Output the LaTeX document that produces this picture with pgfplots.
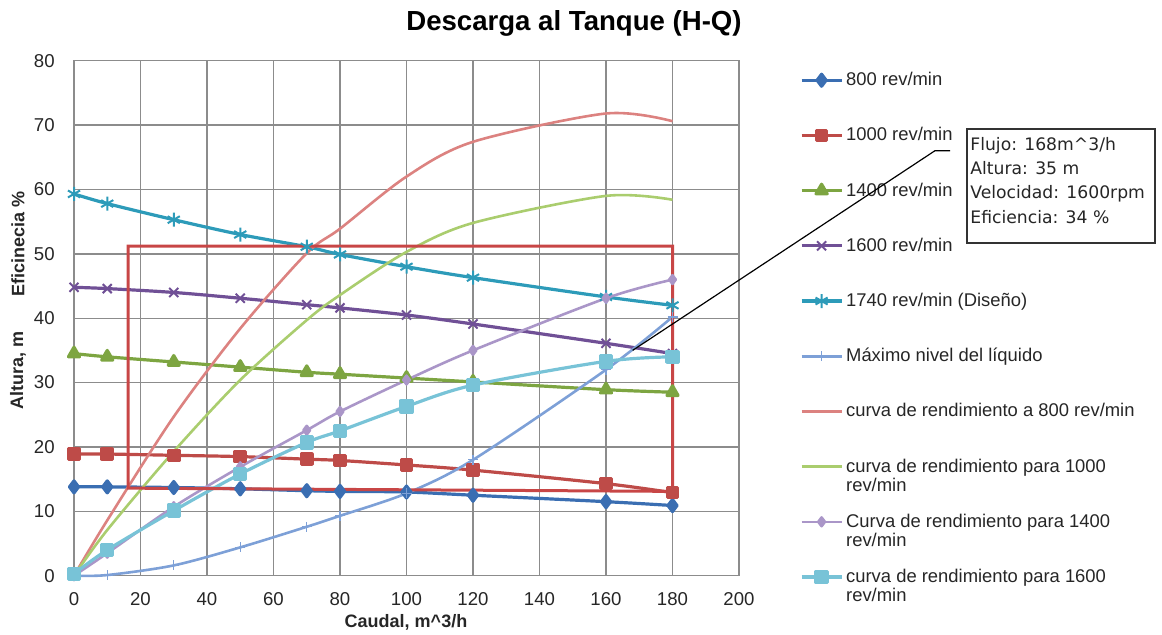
\documentclass[border=0pt]{standalone}
\usepackage{fontspec}
\setmainfont{Liberation Sans}
\newfontfamily\dejavu{DejaVu Sans}
\usepackage{pgfplots}
\pgfplotsset{compat=1.18}
\definecolor{gridc}{RGB}{140,140,140}
\definecolor{cA}{RGB}{58,110,178}
\definecolor{cB}{RGB}{190,75,72}
\definecolor{cC}{RGB}{125,165,65}
\definecolor{cD}{RGB}{112,80,150}
\definecolor{cE}{RGB}{45,155,185}
\definecolor{cF}{RGB}{125,160,215}
\definecolor{cG}{RGB}{220,130,128}
\definecolor{cH}{RGB}{170,205,110}
\definecolor{cI}{RGB}{170,150,200}
\definecolor{cJ}{RGB}{120,195,215}
\definecolor{rectc}{RGB}{200,70,70}
\newcommand{\LE}[1]{\raisebox{0pt}[7pt][2pt]{#1}}
\newcommand{\LT}[2]{\raisebox{0pt}[7pt][2pt]{\begin{tabular}[t]{@{}l@{}}#1\\#2\end{tabular}}}
\begin{document}
\begin{tikzpicture}
\path[use as bounding box] (0,0) rectangle (581pt,-317.5pt);
\begin{axis}[
  at={(37pt,-287.85pt)}, anchor=south west,
  scale only axis, width=332.5pt, height=257.5pt,
  xmin=0, xmax=200, ymin=0, ymax=80,
  xtick={0,20,...,200}, ytick={0,10,...,80},
  grid=major, major grid style={gridc, line width=0.7pt},
  axis line style={gridc, line width=0.7pt},
  major tick length=0pt,
  tick label style={font=\fontsize{9.3}{10}\selectfont, text=black!85},
  /pgf/number format/assume math mode=true,
  yticklabel style={inner sep=0pt, xshift=-9.5pt},
  xticklabel style={inner sep=0pt, yshift=-8pt},
  clip=false,
  legend cell align=left,
  legend style={at={(axis description cs:1.0917,0.9786)}, anchor=north west,
    draw=none, fill=none, inner sep=0pt, outer sep=0pt,
    row sep=19.1pt, column sep=1.5pt,
    nodes={inner sep=0pt, font=\fontsize{9.2}{9.7}\selectfont, text=black!85}},
  legend image code/.code={\draw[mark repeat=2,mark phase=2,#1] plot coordinates {(0pt,0pt) (10pt,0pt) (20pt,0pt)};},
  every axis plot/.append style={line join=round, smooth},
]
\addplot[cA, line width=1.6pt, mark=diamond*, mark size=3pt, mark options={solid}] coordinates {
(0,13.8)(10,13.8)(30,13.7)(50,13.5)(70,13.2)(80,13.1)(100,13.0)(120,12.5)(160,11.5)(180,10.9)};
\addlegendentry{\LE{800 rev/min}}
\addplot[cB, line width=1.6pt, mark=square*, mark size=2.6pt] coordinates {
(0,18.9)(10,18.9)(30,18.7)(50,18.5)(70,18.1)(80,17.9)(100,17.2)(120,16.4)(160,14.3)(180,12.9)};
\addlegendentry{\LE{1000 rev/min}}
\addplot[cC, line width=1.6pt, mark=triangle*, mark size=3.2pt] coordinates {
(0,34.5)(10,34.0)(30,33.2)(50,32.4)(70,31.6)(80,31.3)(100,30.7)(120,30.1)(160,28.9)(180,28.5)};
\addlegendentry{\LE{1400 rev/min}}
\addplot[cD, line width=1.6pt, mark=x, mark size=3.2pt, mark options={line width=1pt}] coordinates {
(0,44.8)(10,44.6)(30,44.0)(50,43.1)(70,42.1)(80,41.6)(100,40.5)(120,39.1)(160,36.1)(180,34.5)};
\addlegendentry{\LE{1600 rev/min}}
\addplot[cE, line width=1.6pt, mark=asterisk, mark size=3.5pt, mark options={line width=1pt}] coordinates {
(0,59.3)(10,57.8)(30,55.3)(50,53.0)(70,51.1)(80,49.9)(100,48.0)(120,46.3)(160,43.3)(180,42.0)};
\addlegendentry{\LE{1740 rev/min (Diseño)}}
\addplot[cF, line width=1.3pt, mark=+, mark size=2.5pt, mark options={line width=0.6pt}] coordinates {
(0,0)(10,0.1)(30,1.6)(50,4.4)(70,7.6)(80,9.3)(100,12.8)(120,18.0)(160,32.0)(180,40.2)};
\addlegendentry{\LE{Máximo nivel del líquido}}
\addplot[cG, line width=1.3pt] coordinates {
(0,0)(10,8.6)(30,24.7)(50,38.4)(70,50.1)(80,53.9)(100,62.0)(120,67.4)(160,71.8)(180,70.6)};
\addlegendentry{\LE{curva de rendimiento a 800 rev/min}}
\addplot[cH, line width=1.3pt] coordinates {
(0,0)(10,7.1)(30,19.3)(50,30.4)(70,39.7)(80,43.6)(100,50.3)(120,54.8)(160,59.0)(180,58.4)};
\addlegendentry{\LT{curva de rendimiento para 1000}{rev/min}}
\addplot[cI, line width=1.3pt, mark=diamond*, mark size=2.2pt] coordinates {
(0,0)(10,3.5)(30,10.7)(50,16.9)(70,22.6)(80,25.5)(100,30.4)(120,35.0)(160,43.1)(180,46.0)};
\addlegendentry{\LT{Curva de rendimiento para 1400}{rev/min}}
\addplot[cJ, line width=1.6pt, mark=square*, mark size=2.8pt] coordinates {
(0,0.3)(10,4.0)(30,10.1)(50,15.8)(70,20.7)(80,22.5)(100,26.3)(120,29.6)(160,33.3)(180,34.0)};
\addlegendentry{\LT{curva de rendimiento para 1600}{rev/min}}
\addplot[rectc, line width=1.5pt, forget plot, sharp plot, line join=miter] coordinates {
(16.3,13.6)(16.3,51.2)(180,51.2)(180,13.1)(16.3,13.6)(16.3,14.5)};
\coordinate (pt168) at (axis cs:168,35);
\end{axis}
\draw[black, line width=0.6pt] (pt168) -- (467.5pt,-75.35pt) -- (475pt,-75.35pt);
\draw[black!80, line width=0.8pt, fill=white] (483.5pt,-64.5pt) rectangle (577.5pt,-121.5pt);
\node[anchor=north west, align=left, inner sep=0pt, font=\dejavu\fontsize{8.6}{12.15}\selectfont, text=black!85] at (485pt,-68.4pt)
  {Flujo: 168m\textasciicircum 3/h\\Altura: 35 m\\Velocidad: 1600rpm\\Eficiencia: 34 \%};
\node[anchor=base, font=\bfseries\fontsize{13.8}{15}\selectfont] at (287pt,-15.35pt) {Descarga al Tanque (H-Q)};
\node[rotate=90, font=\bfseries\fontsize{9}{10}\selectfont, text=black!85] at (9pt,-122pt) {Eficinecia \%};
\node[rotate=90, font=\bfseries\fontsize{9}{10}\selectfont, text=black!85] at (9pt,-185pt) {Altura, m};
\node[font=\bfseries\fontsize{9}{10}\selectfont, text=black!85] at (203pt,-311pt) {Caudal, m\textasciicircum 3/h};
\end{tikzpicture}
\end{document}
